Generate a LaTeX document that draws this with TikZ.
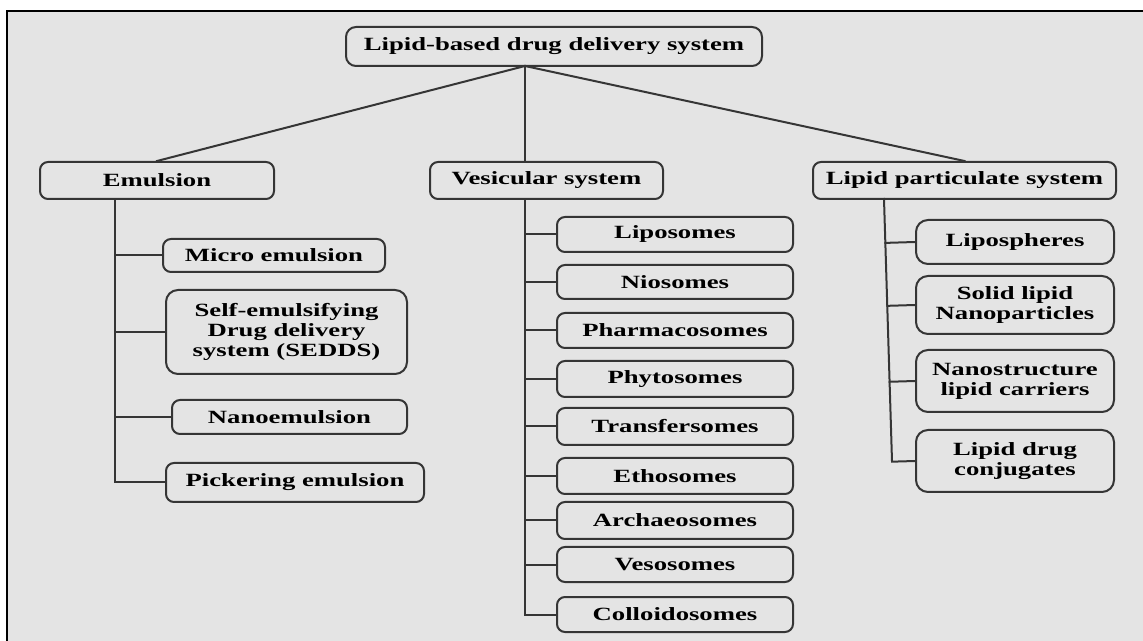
\documentclass[tikz,border=0pt]{standalone}
\usepackage{fontspec}
\newfontfamily\boxfont[FakeStretch=1.43]{Liberation Serif}
\usetikzlibrary{calc}
\definecolor{panel}{HTML}{E4E4E4}
\definecolor{ink}{HTML}{353535}

\begin{document}
\begin{tikzpicture}[x=0.75pt,y=-0.75pt,
  box/.style={draw=ink, line width=1.5pt, rounded corners=6pt, fill=panel,
    inner sep=0pt, align=center, text=black,
    font=\boxfont\bfseries\fontsize{14}{15}\selectfont},
  boxsize/.style 2 args={minimum width=#1*0.75pt, minimum height=#2*0.75pt},
  tall/.style={rounded corners=9pt},
  link/.style={draw=ink, line width=1.5pt, line cap=rect}]

% page and framed grey panel
\useasboundingbox (0,0) rectangle (1143,641);
\fill[white] (0,0) rectangle (1143,641);
\begin{scope}
  \clip (0,0) rectangle (1143,641);
  \draw[fill=panel, line width=1.6pt] (7,11) rectangle (1160,660);
\end{scope}

% root and first level
\node[box, boxsize={416}{39}, rounded corners=7.5pt] (root) at (554,46.5) {Lipid-based drug delivery system};
\node[box, boxsize={234}{37}] (emul) at (157,180.5) {Emulsion};
\node[box, boxsize={233}{37}] (vesi) at (546.5,180.5) {Vesicular system};
\node[box, boxsize={303}{37}] (part) at (964.5,180.5) {Lipid particulate system};

% emulsion branch
\node[box, boxsize={222}{33}] (micro) at (274,255.5) {Micro emulsion};
\node[box, tall, boxsize={241}{84}] (sedds) at (286.5,332) {Self-emulsifying\\Drug delivery\\system (SEDDS)};
\node[box, boxsize={235}{34}] (nano) at (289.5,417) {Nanoemulsion};
\node[box, boxsize={258}{39}] (pick) at (295,482.5) {Pickering emulsion};

% vesicular branch
\node[box, boxsize={236}{35}] (lipo) at (675,234.5) {Liposomes};
\node[box, boxsize={236}{34}] (nios) at (675,282) {Niosomes};
\node[box, boxsize={236}{35}] (phar) at (675,330.5) {Pharmacosomes};
\node[box, boxsize={236}{36}] (phyt) at (675,379) {Phytosomes};
\node[box, boxsize={236}{37}] (tran) at (675,426.5) {Transfersomes};
\node[box, boxsize={236}{36}] (etho) at (675,476) {Ethosomes};
\node[box, boxsize={236}{37}] (arch) at (675,520.5) {Archaeosomes};
\node[box, boxsize={236}{35}] (veso) at (675,564.5) {Vesosomes};
\node[box, boxsize={236}{35}] (coll) at (675,614.5) {Colloidosomes};

% lipid particulate branch
\node[box, tall, boxsize={198}{44}] (lsph) at (1015,242) {Lipospheres};
\node[box, tall, boxsize={198}{58}] (sln) at (1015,305) {Solid lipid\\Nanoparticles};
\node[box, tall, boxsize={198}{62}] (nlc) at (1015,381) {Nanostructure\\lipid carriers};
\node[box, tall, boxsize={198}{62}] (ldc) at (1015,461) {Lipid drug\\conjugates};

% connectors from the root
\coordinate (hub) at (525,66);
\draw[link] (hub) -- (emul.north);
\draw[link] (hub) -- (hub |- vesi.north);
\draw[link] (hub) -- (part.north);

% emulsion trunk
\coordinate (et) at (115,199);
\draw[link] (et) -- (et |- pick.west);
\foreach \n in {micro,sedds,nano,pick}
  \draw[link] (et |- \n.west) -- (\n.west);

% vesicular trunk
\coordinate (vt) at (525,199);
\draw[link] (vt) -- (vt |- coll.west);
\foreach \n in {lipo,nios,phar,phyt,tran,etho,arch,veso,coll}
  \draw[link] (vt |- \n.west) -- (\n.west);

% lipid particulate trunk
\coordinate (pt) at (884,199);
\coordinate (pb) at (892,461);
\draw[link] (pt) -- (pb);
\foreach \n in {lsph,sln,nlc,ldc}
  \draw[link] ($(pt)!(\n.west)!(pb)$) -- (\n.west);
\end{tikzpicture}
\end{document}
